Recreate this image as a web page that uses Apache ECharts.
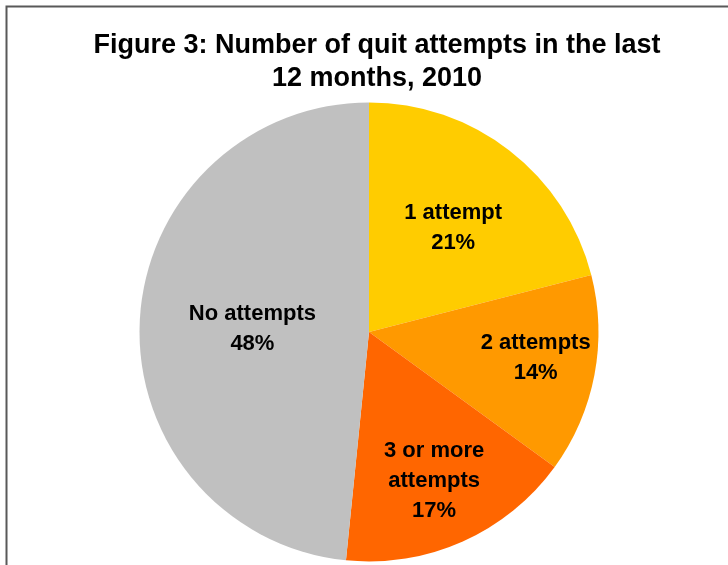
<!DOCTYPE html>
<html>
<head>
<meta charset="utf-8">
<script src="https://cdn.jsdelivr.net/npm/echarts@6/dist/echarts.min.js"></script>
<style>
html,body{margin:0;padding:0;background:#fff;}
#chart{width:728px;height:565px;}
</style>
</head>
<body>
<div id="chart"></div>
<script>
const titleText = 'Figure 3: Number of quit attempts in the last\n12 months, 2010';
const categories = ['1 attempt', '2 attempts', '3 or more\nattempts', 'No attempts'];
const values = [21, 14, 16.6, 48.4];
const colors = ['#FFCC00', '#FF9900', '#FF6600', '#C0C0C0'];
// label nudges relative to the default "inside" position (styling only)
const labelNudge = [[12, -11], [51, 4], [17, 41], [1, 3]];

const chart = echarts.init(document.getElementById('chart'), null, {renderer: 'canvas'});
const total = values.reduce((a, b) => a + b, 0);
chart.setOption({
  animation: false,
  backgroundColor: '#ffffff',
  title: {
    text: titleText,
    left: 372,
    textAlign: 'center',
    top: 24,
    textStyle: {
      fontFamily: 'Liberation Sans, Arial, sans-serif',
      fontWeight: 'bold',
      fontSize: 27,
      lineHeight: 33,
      color: '#000'
    }
  },
  graphic: [{
    type: 'polyline',
    shape: {points: [[6.5, 600], [6.5, 6.5], [740, 6.5]]},
    style: {stroke: '#595959', lineWidth: 2, fill: null},
    silent: true
  }],
  series: [{
    type: 'pie',
    center: [369, 332],
    radius: 229.5,
    startAngle: 90,
    clockwise: true,
    avoidLabelOverlap: false,
    data: categories.map((c, i) => ({name: c, value: values[i], itemStyle: {color: colors[i]}})),
    label: {
      position: 'inside',
      formatter: p => p.name + '\n' + Math.round(p.value / total * 100) + '%',
      fontFamily: 'Liberation Sans, Arial, sans-serif',
      fontWeight: 'bold',
      fontSize: 22,
      lineHeight: 30,
      color: '#000',
      align: 'center'
    },
    labelLine: {show: false},
    labelLayout: p => ({dx: labelNudge[p.dataIndex][0], dy: labelNudge[p.dataIndex][1]}),
    emphasis: {disabled: true}
  }]
});
</script>
</body>
</html>
